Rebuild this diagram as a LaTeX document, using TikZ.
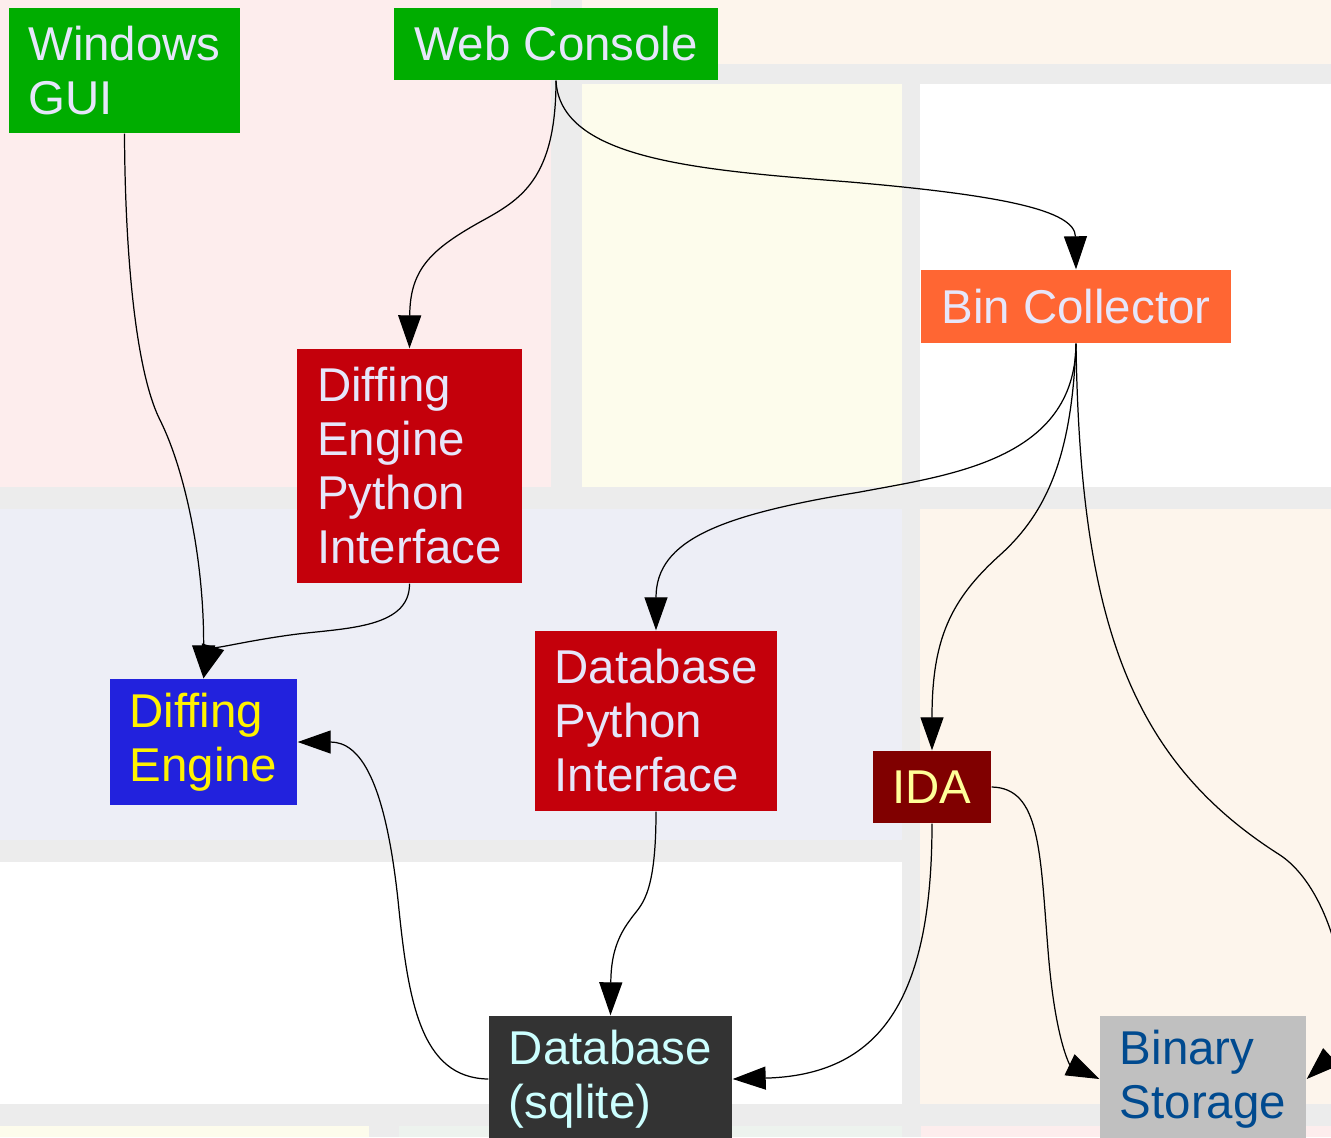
\documentclass[tikz,border=0pt]{standalone}
\usepackage{fontspec}
\setmainfont{Liberation Sans}
\usetikzlibrary{arrows.meta}

\definecolor{gutter}{HTML}{ECECEC}
\definecolor{pinkbg}{HTML}{FDEDED}
\definecolor{beigebg}{HTML}{FDF5EC}
\definecolor{yellowbg}{HTML}{FDFCEC}
\definecolor{lavbg}{HTML}{EDEEF6}
\definecolor{greenbg}{HTML}{EDF3EE}
\definecolor{uigreen}{HTML}{00AD00}
\definecolor{collorange}{HTML}{FF6633}
\definecolor{ifacered}{HTML}{C4000B}
\definecolor{engineblue}{HTML}{2222DD}
\definecolor{idared}{HTML}{800000}
\definecolor{dbgray}{HTML}{333333}
\definecolor{storegray}{HTML}{C0C0C0}
\definecolor{lavtext}{HTML}{E6E6FA}
\definecolor{idatext}{HTML}{FFFF99}
\definecolor{dbtext}{HTML}{CCFFFF}
\definecolor{storetext}{HTML}{004A8F}

\tikzset{
  box/.style={rectangle, inner sep=0pt, align=left, text=lavtext,
    font=\fontsize{13.5pt}{15.36pt}\selectfont},
  client/.style={box, fill=uigreen},
  collector/.style={box, fill=collorange},
  pyiface/.style={box, fill=ifacered},
  engine/.style={box, fill=engineblue, text=yellow},
  disasm/.style={box, fill=idared, text=idatext},
  sqlbox/.style={box, fill=dbgray, text=dbtext},
  storebox/.style={box, fill=storegray, text=storetext},
  link/.style={line width=0.35pt, -{Triangle[length=3.3mm,width=2.3mm]}},
}

\begin{document}
\begin{tikzpicture}[x=1mm, y=-1mm]
    \useasboundingbox (0,0) rectangle (133.1,113.7);
    % panels behind the graph
    \fill [gutter]   (0,0) rectangle (133.1,113.7);
    \fill [pinkbg]   (0,0) rectangle (55.1,48.7);
    \fill [beigebg]  (58.2,0) rectangle (133.1,6.4);
    \fill [yellowbg] (58.2,8.4) rectangle (90.2,48.7);
    \fill [white]    (92.0,8.4) rectangle (133.1,48.7);
    \fill [lavbg]    (0,50.9) rectangle (90.2,84.0);
    \fill [beigebg]  (92.0,50.9) rectangle (133.1,110.4);
    \fill [white]    (0,86.2) rectangle (90.2,110.4);
    \fill [yellowbg] (0,112.6) rectangle (36.9,113.7);
    \fill [greenbg]  (39.9,112.6) rectangle (90.2,113.7);
    \fill [pinkbg]   (92.1,112.6) rectangle (133.1,113.7);

    % nodes
    \path (12.45,  7.05) node [client, minimum width=23.1mm, minimum height=12.5mm] (wingui) {Windows\\GUI};
    \path (55.6,   4.4)  node [client, minimum width=32.4mm, minimum height=7.2mm] (webcon) {Web Console};
    \path (107.6, 30.65) node [collector, minimum width=31.0mm, minimum height=7.3mm] (bincol) {Bin Collector};
    \path (40.95, 46.6)  node [pyiface, minimum width=22.5mm, minimum height=23.4mm] (depi) {Diffing\\Engine\\Python\\Interface};
    \path (20.35, 74.2)  node [engine, minimum width=18.7mm, minimum height=12.6mm] (diffeng) {Diffing\\Engine};
    \path (65.6,  72.1)  node [pyiface, minimum width=24.2mm, minimum height=18.0mm] (dbpi) {Database\\Python\\Interface};
    \path (93.2,  78.7)  node [disasm, minimum width=11.8mm, minimum height=7.2mm] (ida) {IDA};
    \path (61.05,107.9)  node [sqlbox, minimum width=24.3mm, minimum height=12.6mm] (dbase) {Database\\(sqlite)};
    \path (120.3,107.9)  node [storebox, minimum width=20.6mm, minimum height=12.6mm] (binstore) {Binary\\Storage};

    % connectors
    \draw [link] (wingui.south) .. controls (12.5,25) and (13.5,37) .. (16,42)
                 .. controls (18.5,47) and (20.4,56) .. (diffeng.north);
    \draw [link] (webcon.south) .. controls (55.6,18) and (52,20) .. (48,22.2)
                 .. controls (43,25) and (41,27) .. (depi.north);
    \draw [link] (webcon.south) .. controls (56,16) and (70,17) .. (85,18.2)
                 .. controls (100,19.5) and (107.5,21) .. (bincol.north);
    \draw [link] (depi.south) .. controls (41,63) and (34,62.8) .. (29,63.5)
                 .. controls (24,64.2) and (21.2,65) .. (diffeng.north);
    \draw [link] (bincol.south) .. controls (107.5,46) and (95,47.5) .. (86,49.2)
                 .. controls (72,51.5) and (65.6,54) .. (dbpi.north);
    \draw [link] (bincol.south) .. controls (107.2,45) and (105,51) .. (100,55.5)
                 .. controls (95,60) and (93.2,64) .. (ida.north);
    \draw [link] (bincol.south) .. controls (108,62) and (113,76) .. (128,85.5)
                 .. controls (134,89.5) and (136,103) .. (binstore.east);
    \draw [link] (dbpi.south) .. controls (65.6,90) and (64,90.5) .. (63,92)
                 .. controls (61.5,94) and (61.1,96) .. (dbase.north);
    \draw [link] (dbase.west) .. controls (42,107.8) and (40.8,100) .. (39.8,90)
                 .. controls (38.5,78) and (36,74.2) .. (diffeng.east);
    \draw [link] (ida.south) .. controls (93.2,100) and (88,107.5) .. (dbase.east);
    \draw [link] (ida.east) .. controls (104,78.8) and (104,85) .. (104.8,95)
                 .. controls (105.5,104) and (107,106.5) .. (binstore.west);
\end{tikzpicture}
\end{document}
